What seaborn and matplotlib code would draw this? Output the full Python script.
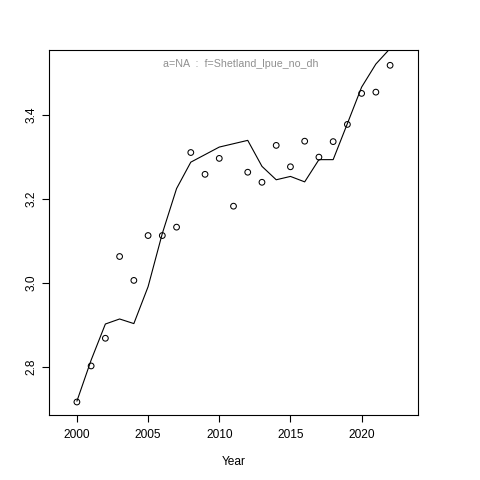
import matplotlib
matplotlib.use("Agg")
import matplotlib.pyplot as plt
import seaborn as sns
import pandas as pd

years = list(range(2000, 2023))
observed = [2.716, 2.802, 2.868, 3.063, 3.006, 3.113, 3.113, 3.133, 3.311, 3.259,
            3.297, 3.183, 3.264, 3.240, 3.328, 3.277, 3.338, 3.300, 3.337, 3.378,
            3.452, 3.455, 3.519]
fitted = [2.718, 2.816, 2.902, 2.914, 2.903, 2.991, 3.118, 3.225, 3.288, 3.306,
          3.324, 3.332, 3.340, 3.278, 3.246, 3.254, 3.241, 3.294, 3.294, 3.380,
          3.467, 3.522, 3.559]
title_text = "a=NA  :  f=Shetland_lpue_no_dh"
xticks = [2000, 2005, 2010, 2015, 2020]
yticks = [2.8, 3.0, 3.2, 3.4]

df = pd.DataFrame({"Year": years, "obs": observed, "fit": fitted})

sns.set_theme(style="white")
plt.rcParams['font.family'] = ['Liberation Sans', 'DejaVu Sans']

fig = plt.figure(figsize=(4.8, 4.8), dpi=100)
ax = fig.add_axes([49/480, 65/480, 369/480, 365/480])

sns.scatterplot(data=df, x="Year", y="obs", ax=ax, marker="o", s=17,
                facecolor="none", edgecolor="black", linewidth=0.75, zorder=3)
sns.lineplot(data=df, x="Year", y="fit", ax=ax, color="black", linewidth=0.8)

ax.set_xlim(1998.04, 2023.96)
ax.set_ylim(2.685, 3.5555)
ax.set_xticks(xticks)
ax.set_xticklabels([str(t) for t in xticks])
ax.set_yticks(yticks)
ax.set_yticklabels([f"{t:.1f}" for t in yticks], rotation=90, va="center")
ax.tick_params(axis="both", direction="out", length=5.2, width=0.8, color="black",
               labelsize=8.6, labelcolor="black", bottom=True, left=True)
ax.tick_params(axis="x", pad=5)
ax.tick_params(axis="y", pad=3)
for sp in ax.spines.values():
    sp.set_visible(True)
    sp.set_color("black")
    sp.set_linewidth(0.8)
ax.set_xlabel("Year", fontsize=8.6, color="black", labelpad=11)
ax.set_ylabel("")
ax.text((240.5 - 49) / 369, 0.961, title_text, transform=ax.transAxes, ha="center",
        va="center", fontsize=7.7, color="#909090")

fig.savefig("out.png", dpi=100, facecolor="white")
